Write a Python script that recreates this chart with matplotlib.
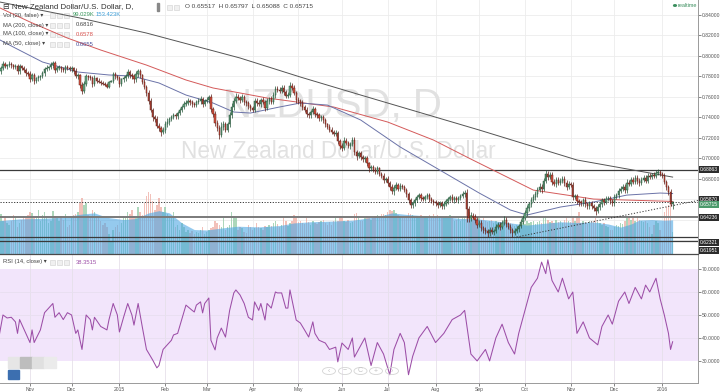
import numpy as np
import pandas as pd
import matplotlib
matplotlib.use("Agg")
import matplotlib.pyplot as plt
from matplotlib.patches import Rectangle, Circle

# ---- data (daily NZDUSD bars, prices in 1e-4 units) ----
dates = pd.bdate_range("2014-10-13", "2016-01-08")
first_open = 7830
close_pips = [
    7850, 7880, 7920, 7900, 7910,  7920, 7910, 7890, 7900, 7850,  7900, 7880, 7860, 7830, 7820,
    7770, 7810, 7760, 7780, 7790,  7800, 7830, 7870, 7880, 7890,  7910, 7930, 7860, 7880, 7890,
    7870, 7860, 7890, 7880, 7870,  7880, 7850, 7800, 7810, 7720,  7660, 7730, 7800, 7790, 7780,
    7730, 7780, 7760, 7750, 7740,  7730, 7720, 7700, 7750, 7760,  7820, 7800, 7780, 7730, 7770,
    7780, 7800, 7840, 7810, 7800,  7770, 7820, 7850, 7810, 7750,  7700, 7640, 7560, 7470, 7400,
    7380, 7320, 7300, 7260, 7280,  7330, 7350, 7380, 7400, 7420,  7410, 7440, 7470, 7500, 7530,
    7540, 7560, 7550, 7530, 7520,  7550, 7560, 7580, 7530, 7560,  7570, 7600, 7480, 7430, 7340,
    7300, 7230, 7310, 7330, 7280,  7330, 7420, 7500, 7560, 7600,  7590, 7570, 7600, 7550, 7540,
    7510, 7490, 7470, 7560, 7540,  7530, 7570, 7550, 7490, 7560,  7580, 7550, 7620, 7680, 7670,
    7660, 7690, 7650, 7610, 7620,  7710, 7690, 7640, 7570, 7560,  7540, 7500, 7470, 7430, 7420,
    7450, 7480, 7430, 7420, 7390,  7400, 7370, 7330, 7310, 7280,  7260, 7240, 7250, 7170, 7120,
    7100, 7170, 7150, 7120, 7140,  7180, 7060, 7020, 7050, 7010,  6990, 7000, 6950, 6900, 6910,
    6890, 6870, 6900, 6850, 6830,  6790, 6800, 6760, 6720, 6680,  6710, 6740, 6700, 6730, 6720,
    6690, 6650, 6590, 6540, 6560,  6590, 6620, 6640, 6610, 6600,  6620, 6640, 6600, 6580, 6570,
    6560, 6540, 6560, 6530, 6550,  6580, 6600, 6620, 6590, 6610,  6590, 6610, 6630, 6650, 6660,
    6500, 6420, 6440, 6430, 6400,  6350, 6370, 6320, 6300, 6290,  6270, 6300, 6280, 6290, 6330,
    6350, 6330, 6370, 6400, 6360,  6330, 6300, 6270, 6290, 6310,  6340, 6380, 6420, 6460, 6510,
    6550, 6590, 6620, 6650, 6690,  6720, 6700, 6780, 6850, 6820,  6840, 6770, 6750, 6790, 6760,
    6780, 6800, 6760, 6720, 6750,  6740, 6620, 6630, 6580, 6570,  6560, 6590, 6550, 6530, 6560,
    6530, 6510, 6480, 6520, 6550,  6590, 6570, 6600, 6610, 6580,  6560, 6620, 6640, 6680, 6700,
    6720, 6690, 6760, 6750, 6790,  6770, 6810, 6780, 6760, 6790,  6810, 6780, 6830, 6820, 6840,
    6830, 6860, 6870, 6850, 6830,  6770, 6720, 6670, 6552, 6571.5,
]
wick_hi = [
    25, 18, 30, 22, 15,  28, 20, 12, 25, 18,  22, 15, 20, 18, 25,  30, 20, 25, 15, 22,
    18, 25, 20, 30, 15,  35, 20, 18, 22, 25,  15, 22, 20, 18, 25,  20, 15, 28, 22, 18,
    30, 25, 20, 15, 22,  25, 30, 18, 20, 15,  12, 15, 20, 10, 8,   25, 20, 15, 22, 18,
    20, 25, 30, 18, 22,  25, 35, 20, 18, 15,  22, 18, 25, 30, 20,  25, 30, 22, 18, 25,
    30, 40, 22, 25, 20,  18, 25, 20, 22, 28,  25, 30, 20, 18, 22,  20, 25, 30, 22, 18,
    25, 20, 28, 22, 30,  35, 25, 40, 30, 22,  20, 30, 45, 25, 35,  30, 22, 25, 20, 18,
    22, 25, 20, 30, 25,  28, 20, 25, 22, 30,  20, 25, 30, 28, 22,  25, 30, 22, 20, 25,
    35, 28, 22, 20, 25,  22, 25, 20, 28, 18,  25, 30, 22, 20, 25,  20, 22, 25, 18, 20,
    22, 20, 25, 18, 22,  25, 40, 30, 22, 20,  30, 25, 20, 22, 25,  22, 25, 20, 18, 22,
    20, 22, 25, 18, 20,  25, 20, 22, 18, 25,  30, 25, 22, 28, 20,  22, 20, 18, 25, 22,
    25, 22, 20, 18, 22,  20, 25, 18, 22, 20,  22, 20, 25, 18, 22,  25, 22, 20, 28, 20,
    20, 22, 25, 28, 30,  40, 35, 30, 25, 22,  25, 30, 22, 20, 25,  22, 25, 30, 22, 28,
    25, 30, 22, 35, 25,  20, 25, 22, 28, 25,  22, 25, 28, 30, 35,  25, 30, 28, 25, 30,
    35, 30, 28, 40, 30,  28, 25, 30, 22, 25,  25, 28, 22, 30, 25,  22, 30, 25, 20, 22,
    25, 22, 28, 20, 22,  22, 25, 20, 28, 22,  25, 22, 28, 20, 22,  22, 28, 25, 30, 25,
    28, 25, 35, 30, 25,  25, 30, 28, 25, 22,  22, 25, 28, 22, 20,  25, 30, 22, 20, 15,
    25, 22, 20, 28, 8,
]
wick_lo = [
    20, 28, 15, 22, 25,  18, 25, 22, 15, 30,  25, 20, 18, 22, 15,  25, 18, 30, 22, 20,
    22, 15, 25, 18, 20,  20, 25, 30, 18, 22,  25, 18, 22, 20, 15,  22, 25, 18, 25, 30,
    35, 25, 20, 22, 18,  30, 22, 25, 18, 20,  15, 12, 18, 10, 6,   20, 25, 18, 30, 22,
    25, 20, 18, 22, 25,  30, 22, 25, 28, 20,  25, 30, 28, 22, 35,  30, 25, 35, 40, 22,
    35, 22, 25, 20, 18,  22, 25, 20, 18, 22,  20, 22, 25, 28, 20,  22, 18, 25, 30, 22,
    20, 25, 30, 28, 25,  35, 40, 25, 30, 28,  25, 22, 30, 25, 20,  22, 28, 20, 25, 30,
    25, 30, 22, 20, 25,  22, 25, 20, 30, 22,  25, 20, 22, 28, 25,  22, 25, 30, 25, 20,
    20, 25, 22, 28, 25,  30, 25, 22, 28, 25,  25, 20, 28, 22, 25,  22, 25, 28, 20, 25,
    25, 22, 20, 30, 28,  30, 20, 25, 22, 28,  25, 30, 35, 22, 25,  22, 28, 25, 30, 22,
    25, 22, 20, 28, 25,  28, 25, 30, 35, 28,  35, 22, 25, 20, 22,  22, 25, 28, 30, 25,
    25, 22, 20, 25, 22,  22, 20, 25, 22, 25,  25, 22, 20, 28, 22,  20, 25, 22, 20, 25,
    22, 25, 20, 22, 25,  120, 40, 30, 25, 30, 30, 25, 28, 35, 30,  35, 28, 25, 30, 22,
    25, 30, 22, 20, 28,  25, 28, 35, 22, 25,  30, 22, 25, 20, 22,  25, 22, 20, 28, 25,
    22, 35, 25, 20, 30,  25, 30, 22, 28, 25,  22, 25, 28, 30, 22,  25, 28, 22, 30, 35,
    22, 25, 28, 30, 22,  25, 22, 30, 20, 25,  22, 25, 20, 22, 25,  25, 22, 20, 25, 22,
    22, 28, 25, 20, 25,  25, 22, 28, 30, 22,  20, 22, 25, 22, 20,  22, 20, 25, 22, 20,
    25, 30, 28, 22, 43,
]
volume_k = [
    240, 180, 150, 165, 140,  130, 150, 175, 160, 120,  140, 155, 170, 160, 175,  190, 185, 160, 170, 200,
    150, 175, 190, 165, 140,  150, 195, 170, 160, 150,  170, 155, 180, 120, 130,  160, 175, 180, 190, 230,
    250, 220, 230, 175, 160,  200, 190, 170, 160, 150,  130, 140, 120, 90, 60,    110, 120, 130, 100, 140,
    170, 160, 190, 180, 200,  170, 160, 210, 190, 175,  230, 260, 280, 270, 240,  200, 220, 250, 210, 190,
    210, 180, 170, 160, 190,  120, 130, 110, 140, 120,  100, 110, 95, 105, 90,    100, 95, 110, 120, 90,
    100, 110, 115, 120, 150,  140, 130, 120, 160, 110,  120, 130, 190, 170, 160,  110, 120, 115, 100, 95,
    130, 120, 110, 115, 140,  120, 115, 110, 125, 120,  130, 125, 140, 150, 135,  120, 130, 165, 150, 125,
    140, 150, 175, 160, 145,  150, 140, 135, 160, 145,  130, 150, 140, 135, 145,  150, 155, 140, 130, 145,
    130, 150, 160, 150, 170,  160, 150, 145, 155, 140,  145, 180, 185, 160, 150,  150, 160, 170, 165, 155,
    160, 170, 175, 165, 180,  180, 175, 190, 200, 195,  200, 185, 175, 170, 165,  160, 170, 185, 180, 175,
    165, 170, 160, 175, 165,  170, 165, 175, 160, 180,  165, 175, 170, 160, 165,  170, 165, 175, 160, 150,
    155, 160, 150, 165, 170,  220, 190, 175, 165, 155,  150, 160, 155, 165, 150,  145, 150, 155, 140, 150,
    140, 145, 135, 150, 140,  130, 140, 135, 125, 130,  125, 130, 140, 135, 150,  140, 145, 150, 135, 145,
    150, 140, 160, 170, 155,  145, 150, 140, 155, 145,  150, 140, 155, 165, 150,  145, 160, 150, 170, 190,
    140, 150, 145, 135, 150,  140, 150, 160, 145, 140,  130, 140, 125, 120, 110,  110, 120, 130, 125, 140,
    135, 150, 160, 170, 155,  160, 150, 165, 155, 150,  145, 150, 140, 120, 90,   130, 150, 140, 110, 60,
    190, 210, 220, 230, 99,
]

# volume MA(20) area, read at sampled bars
vma_bar = [0, 10, 20, 30, 40, 46, 52, 60, 66, 72, 77, 82, 88, 94, 100, 108, 115, 125, 135, 142, 150,
           160, 170, 176, 183, 189, 196, 205, 214, 222, 230, 238, 246, 254, 262, 270, 278, 286, 293,
           299, 304, 308, 314, 320, 324]
vma_k = [150, 158, 160, 165, 180, 185, 165, 155, 160, 185, 195, 185, 140, 110, 108, 118, 125, 122, 128,
         140, 145, 148, 152, 160, 170, 185, 178, 172, 168, 160, 158, 150, 140, 130, 138, 145, 142, 144,
         135, 121, 135, 153, 155, 152, 153.4]

# moving averages (bar index, price)
ma200_bar = [0.6, 39, 71, 116, 145, 174, 231, 278, 324]
ma200_val = [0.8527, 0.8371, 0.8224, 0.7980, 0.7794, 0.7618, 0.7276, 0.6983, 0.6816]
ma100_bar = [0.6, 15, 33, 49, 71, 90, 103, 116, 129, 161, 187, 209, 226, 257, 286, 324]
ma100_val = [0.8469, 0.8332, 0.8175, 0.8058, 0.7911, 0.7765, 0.7687, 0.7638, 0.7589, 0.7501,
             0.7354, 0.7178, 0.7002, 0.6689, 0.6601, 0.6578]
ma50_bar = [0.6, 7, 21, 38, 53, 64, 77, 90, 103, 113, 121, 135, 145, 158, 174, 193, 212, 231, 246,
            254, 270, 286, 302, 318, 324]
ma50_val = [0.8156, 0.8087, 0.7941, 0.7843, 0.7814, 0.7804, 0.7736, 0.7618, 0.7540, 0.7452, 0.7442,
            0.7501, 0.7540, 0.7520, 0.7374, 0.7110, 0.6885, 0.6660, 0.6494, 0.6445, 0.6523, 0.6572,
            0.6640, 0.6660, 0.6655]

# RSI(14) read at sampled bars
rsi_bar = [0, 2, 4, 6, 8, 9, 10, 13, 15, 16, 17, 20, 22, 25, 26, 27, 29, 31, 33, 35, 37, 38, 40, 42,
           44, 45, 46, 49, 52, 53, 55, 57, 58, 60, 62, 64, 65, 67, 69, 71, 74, 76, 77, 79, 81, 83, 84,
           86, 89, 90, 93, 94, 95, 97, 98, 99, 101, 102, 104, 105, 107, 109, 111, 113, 114, 116, 118,
           120, 122, 123, 125, 126, 128, 129, 131, 133, 134, 136, 138, 139, 140, 141, 143, 145, 147,
           149, 151, 152, 154, 157, 159, 162, 163, 165, 168, 170, 171, 173,
           176, 179, 182, 185, 188, 190, 193, 195, 197, 199, 202, 206, 210, 214, 218, 222, 224, 227,
           230, 234, 236, 239, 242, 245, 248, 250, 253, 256, 259, 261, 263, 264, 266, 269, 271, 274,
           276, 278, 281, 284, 288, 290, 293, 295, 298, 301, 303, 306, 309, 311, 313, 316, 318, 320,
           322, 323, 324]
rsi_val = [40, 50, 48.7, 49, 47, 42, 48, 42, 38, 43.5, 38, 43.5, 51, 54, 55, 49, 51, 48, 51, 50, 42,
           43.5, 35, 50, 48, 43.5, 49, 45, 43.5, 48, 55, 50, 42.6, 49, 55, 50, 45.6, 55, 44.8, 35,
           30.4, 27, 28, 35, 37, 39, 41.3, 42, 51.3, 54.3, 52, 51.3, 54.3, 55.7, 50.9, 55, 57.4, 39,
           34.8, 40, 44.3, 40.4, 52, 59.6, 60.9, 58.7, 55, 49, 47.8, 55.7, 52, 55, 47.8, 55, 53, 60,
           59.6, 59.6, 53, 53, 60.9, 56.5, 47.8, 46.5, 43.5, 40.4, 47, 42, 39, 37.8, 35, 36, 29.6,
           37.8, 35, 40, 31.7, 35,
           40, 28, 38, 33, 24, 35, 42, 38, 24, 32, 40, 45, 38, 42, 48, 50, 52, 33,
           30, 35, 30, 40, 46, 38, 33, 42, 52, 62, 66, 73, 68, 74, 65, 60, 66, 57,
           60, 42, 47, 40, 37, 45, 50, 46, 56, 60, 55, 62, 57, 63, 60, 66, 57, 50,
           42, 35, 38.35]

levels = [0.68863, 0.64236, 0.62321, 0.61951]
trend_bar = [249, 336.2]
trend_val = [0.6230, 0.6587]

# ---- derived OHLC ----
close = np.array(close_pips) / 1e4
opn = np.r_[first_open / 1e4, close[:-1]]
opn[-1] = 0.65517
high = np.maximum(opn, close) + np.array(wick_hi) / 1e4
low = np.minimum(opn, close) - np.array(wick_lo) / 1e4
idx = np.arange(len(close))
up = close >= opn

W, H = 720, 392
fig = plt.figure(figsize=(7.2, 3.92), dpi=100)
fig.patch.set_facecolor("white")
plt.rcParams["font.family"] = ["Liberation Sans", "DejaVu Sans"]

def box(px0, py0, px1, py1):
    return [px0 / W, 1 - py1 / H, (px1 - px0) / W, (py1 - py0) / H]

XL = (0.58, 336.2)
grid_c = "#ececec"
tick_c = "#555555"
FS = 3.6

# ---- price pane ----
axv = fig.add_axes(box(0, 0, 698, 254))
ax = fig.add_axes(box(0, 0, 698, 254), sharex=axv)
ax.set_zorder(axv.get_zorder() + 1)
ax.patch.set_visible(False)

# volume
vol_col = np.where(up, "#9fd1b0", "#f0b6ae")
axv.bar(idx, volume_k, width=0.7, color=vol_col, alpha=0.85, zorder=1)
axv.fill_between(vma_bar, vma_k, 0, color="#4ea7e4", alpha=0.6, lw=0, zorder=2)
axv.set_ylim(0, 1143)
axv.set_yticks([])
for s in axv.spines.values():
    s.set_visible(False)
axv.tick_params(bottom=False, labelbottom=False)

# month positions
mon = pd.Series(dates.to_period("M"))
starts = [i for i in range(1, len(dates)) if mon[i] != mon[i - 1]]
mlabels = [str(dates[i].year) if dates[i].month == 1 else dates[i].strftime("%b") for i in starts]

for s in starts:
    axv.axvline(s, color=grid_c, lw=0.6, zorder=0)
yt = np.arange(0.62, 0.841, 0.02)
for v in yt:
    axv.axhline(1143 * (v - 0.6064) / (0.8547 - 0.6064), color=grid_c, lw=0.6, zorder=0)

# watermark
ax.text(0.476, 0.583, "NZDUSD, D", transform=ax.transAxes, ha="center", va="center",
        fontsize=29, color="#e1e1e1", zorder=0)
ax.text(0.484, 0.405, "New Zealand Dollar/U.S. Dollar", transform=ax.transAxes, ha="center",
        va="center", fontsize=16.3, color="#e1e1e1", zorder=0)

# MAs
ax.plot(ma200_bar, ma200_val, color="#555555", lw=0.7, zorder=3)
ax.plot(ma100_bar, ma100_val, color="#d45a5a", lw=0.7, zorder=3)
ax.plot(ma50_bar, ma50_val, color="#6b73a8", lw=0.7, zorder=3)

# levels
for lv in levels:
    ax.axhline(lv, color="#3a3a3a" if lv != 0.64236 else "#7a7a7a",
               lw=0.9 if lv != 0.64236 else 1.4, zorder=2)
ax.axhline(close[-1], color="#333333", lw=0.7, ls=(0, (1.2, 1.6)), zorder=2)
ax.plot(trend_bar, trend_val, color="#333333", lw=0.7, ls=(0, (1.2, 1.8)), zorder=2)

# candles
ax.vlines(idx, low, high, colors=np.where(up, "#225437", "#5b1a13"), lw=0.5, zorder=4)
body = np.abs(close - opn)
body = np.maximum(body, 0.0002)
ax.bar(idx, body, bottom=np.minimum(opn, close), width=0.62,
       color=np.where(up, "#6ba583", "#d75442"),
       edgecolor=np.where(up, "#225437", "#5b1a13"), linewidth=0.35, zorder=5)

ax.set_xlim(*XL)
ax.set_ylim(0.6064, 0.8547)
ax.yaxis.tick_right()
ax.set_yticks(yt)
# labels for 0.62/0.64/0.66 sit under the level tags on the reference
ax.set_yticklabels(["" if round(v, 2) in (0.62, 0.64, 0.66) else f"{v:.5f}" for v in yt])
ax.tick_params(axis="y", labelsize=FS, colors=tick_c, length=2, width=0.5, pad=1)
ax.tick_params(axis="x", bottom=False, labelbottom=False)
for k, s in ax.spines.items():
    s.set_visible(k in ("right", "bottom"))
ax.spines["right"].set_color("#9a9a9a")
ax.spines["right"].set_linewidth(0.7)
ax.spines["bottom"].set_color("#4a4a4a")
ax.spines["bottom"].set_linewidth(0.9)

# axis label tags
tag = ax.get_yaxis_transform()
for val, ypos, fc in [(0.68863, 0.68863, "#2b2b2b"), (0.65870, 0.6592, "#2b2b2b"),
                      (0.65715, 0.6551, "#4c9a6c"), (0.64236, 0.64236, "#2b2b2b"),
                      (0.62321, 0.6178, "#2b2b2b"), (0.61951, 0.6100, "#2b2b2b")]:
    ax.text(1.003, ypos, f"{val:.5f}", transform=tag, fontsize=FS, color="white",
            va="center", ha="left", clip_on=False, zorder=10,
            bbox=dict(boxstyle="square,pad=0.2", fc=fc, ec="none"))

# ---- RSI pane ----
axr = fig.add_axes(box(0, 255, 698, 383), sharex=axv)
axr.axhspan(30, 70, color="#f2e5fb", lw=0, zorder=0)
for s in starts:
    axr.axvline(s, color="#e6e0ea", lw=0.6, zorder=1)
for v in (40, 50, 60):
    axr.axhline(v, color="#e8dff0", lw=0.6, zorder=1)
axr.plot(rsi_bar, rsi_val, color="#9c4ea7", lw=0.75, zorder=3)
axr.set_xlim(*XL)
axr.set_ylim(20.4, 76.1)
axr.yaxis.tick_right()
axr.set_yticks([30, 40, 50, 60, 70])
axr.set_yticklabels([f"{v:.4f}" for v in (30, 40, 50, 60, 70)])
axr.tick_params(axis="y", labelsize=FS, colors=tick_c, length=2, width=0.5, pad=1)
axr.set_xticks(starts)
axr.set_xticklabels(mlabels)
axr.tick_params(axis="x", labelsize=FS, colors=tick_c, length=2, width=0.5, pad=1)
for k, s in axr.spines.items():
    s.set_visible(k in ("right", "bottom"))
    s.set_color("#9a9a9a")
    s.set_linewidth(0.7)

# ---- header / legend texts ----
def ftxt(px, py, s, **kw):
    fig.text(px / W, 1 - py / H, s, va="center", **kw)

ftxt(3, 7, "\u229f New Zealand Dollar/U.S. Dollar, D,", fontsize=5.7, color="#333333")
ftxt(185, 7, "O 0.65517  H 0.65797  L 0.65088  C 0.65715", fontsize=4.6, color="#444444")
fig.add_artist(Rectangle((157 / W, 1 - 11 / H), 2 / W, 8 / H, color="#888888", transform=fig.transFigure))
for bx in (167, 174):
    fig.add_artist(Rectangle((bx / W, 1 - 10 / H), 5 / W, 5 / H, fc="#f0f0f0", ec="#cfcfcf", lw=0.4,
                             transform=fig.transFigure))
rows = [(15, "Vol (20, false) \u25be"), (25, "MA (200, close) \u25be"),
        (34, "MA (100, close) \u25be"), (44, "MA (50, close) \u25be")]
for py, s in rows:
    ftxt(3, py, s, fontsize=4.2, color="#444444")
    for bx in (50, 57, 64):
        fig.add_artist(Rectangle((bx / W, 1 - (py + 2.5) / H), 5 / W, 5 / H, fc="#f0f0f0",
                                 ec="#cfcfcf", lw=0.4, transform=fig.transFigure))
ftxt(73, 15, "99.029K", fontsize=4.2, color="#3c9a5f")
ftxt(96, 15, "153.423K", fontsize=4.2, color="#3d9ed8")
ftxt(76, 25, "0.6816", fontsize=4.2, color="#444444")
ftxt(76, 34, "0.6578", fontsize=4.2, color="#d9534f")
ftxt(76, 44, "0.6655", fontsize=4.2, color="#4a4f9a")

ftxt(3, 262, "RSI (14, close) \u25be", fontsize=4.2, color="#444444")
for bx in (50, 57, 64):
    fig.add_artist(Rectangle((bx / W, 1 - 264.5 / H), 5 / W, 5 / H, fc="#f0f0f0", ec="#cfcfcf",
                             lw=0.4, transform=fig.transFigure))
ftxt(76, 262, "38.3515", fontsize=4.2, color="#9c4ea7")

fig.add_artist(Circle((675 / W, 1 - 5.5 / H), 1.4 / W, color="#3c8f5f", transform=fig.transFigure))
ftxt(678, 5.5, "realtime", fontsize=4.0, color="#3c8f5f")

# bottom-left / zoom widgets
for bx, c in [(8, "#e6e6e6"), (20, "#bdbdbd"), (32, "#e0e0e0"), (44, "#ebebeb")]:
    fig.add_artist(Rectangle((bx / W, 1 - 368 / H), 12 / W, 11 / H, color=c, transform=fig.transFigure))
fig.add_artist(Rectangle((8 / W, 1 - 379 / H), 11 / W, 9 / H, color="#3c6fb0", transform=fig.transFigure))
for cx, sym in [(329, "\u2039"), (345, "\u2212"), (360.5, "C"), (376, "+"), (392, "\u203a")]:
    fig.add_artist(Circle((cx / W, 1 - 371 / H), 6.5 / W, fc="none", ec="#d4d4d4", lw=0.6,
                          transform=fig.transFigure))
    ftxt(cx, 371, sym, fontsize=5, color="#c4c4c4", ha="center")

fig.savefig("out.png", dpi=100)
